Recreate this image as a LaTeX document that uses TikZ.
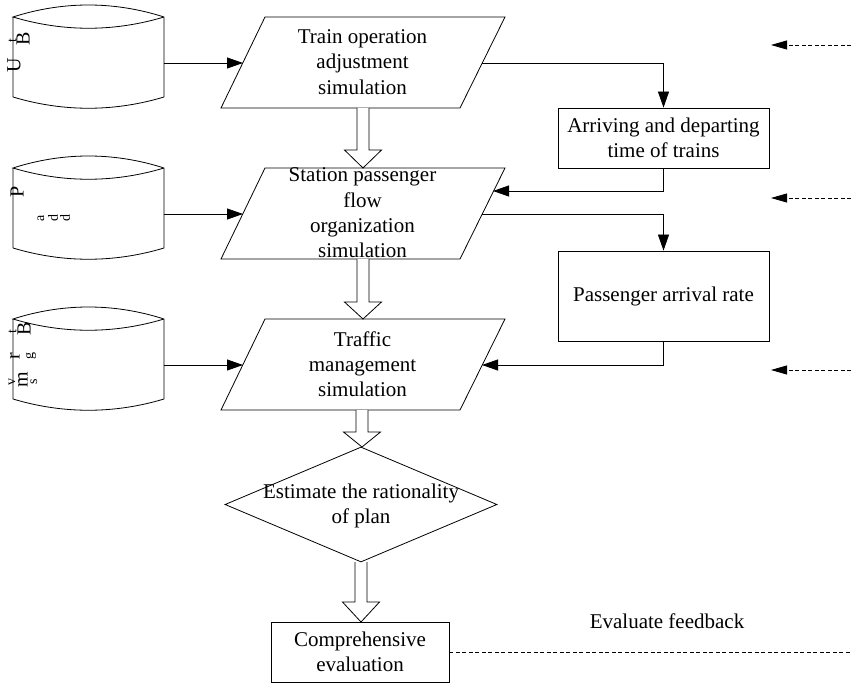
\documentclass[tikz,border=0pt]{standalone}
\usepackage{fontspec}
\setmainfont{Liberation Serif}
\usetikzlibrary{arrows.meta,shapes.geometric,calc}
\begin{document}
\begin{tikzpicture}[x=1pt,y=-1pt,line width=0.8pt,
  txt/.style={font=\fontsize{21}{25.3}\selectfont, align=center, inner sep=0pt},
  boxnode/.style={draw, rectangle, inner sep=0pt, font=\fontsize{21}{25.3}\selectfont, align=center},
  arr/.style={-{Triangle[length=16pt,width=11pt]}},
  fbarrow/.style={dash pattern=on 4pt off 2.5pt, -{Triangle[length=16pt,width=9pt]}},
  dashline/.style={dash pattern=on 4pt off 2.5pt},
  hollow/.style={draw, fill=white},
  rotl/.style={rotate=90, inner sep=0pt, font=\fontsize{20}{20}\selectfont},
  rots/.style={rotate=90, inner sep=0pt, font=\fontsize{14}{14}\selectfont}
]
\fill[white] (0,0) rectangle (851,684);
\useasboundingbox (0,0) rectangle (851,684);

% cylinders
\foreach \t in {17,168,319}{
  \draw (13,\t) -- (13,\t+80) .. controls (63,\t+95) and (114,\t+95) .. (164,\t+80)
        -- (164,\t) .. controls (114,\t-16) and (63,\t-16) .. (13,\t)
        .. controls (63,\t+15) and (114,\t+15) .. (164,\t);
}
% cylinder texts
\node[rotl] (t1a) at (23,39) {B};
\node[rots] (t1b) at (12.5,41) {t};
\node[rotl] (t1c) at (14,65) {U};
\node[rotl] (t2a) at (17,192) {P};
\node[rots, anchor=center] (t2b) at (41,218) {a};
\node[rots, anchor=center] (t2c) at (53,218) {d};
\node[rots, anchor=center] (t2d) at (65,218) {d};
\node[rotl] (t3a) at (24,329) {B};
\node[rots] (t3b) at (12.5,332) {t};
\node[rotl] (t3c) at (15,356) {r};
\node[rots] (t3d) at (31,356) {g};
\node[rotl] (t3e) at (23,380) {m};
\node[rots] (t3f) at (34,382) {s};
\node[rots] (t3g) at (12,382) {v};

% parallelograms
\foreach \t in {17,168,319}{
  \draw (221,\t+91) -- (265,\t) -- (505,\t) -- (460,\t+91) -- cycle;
}
\node[txt] (p1t) at (362.5,62) {Train operation\\adjustment\\simulation};
\node[txt] (p2t) at (362.5,213) {Station passenger\\flow\\organization\\simulation};
\node[txt] (p3t) at (362.5,364.4) {Traffic\\management\\simulation};

% hollow arrows
\foreach \cx/\tp/\hs/\tip in {363/108/150/168, 363/259/302/319, 362/410/432/447, 361/562/602/622}{
  \draw[hollow] (\cx-6,\tp) -- (\cx-6,\hs) -- (\cx-18.5,\hs) -- (\cx,\tip) -- (\cx+18.5,\hs) -- (\cx+6,\hs) -- (\cx+6,\tp);
}

% diamond
\node[diamond, draw, minimum width=272pt, minimum height=115pt, inner sep=0pt] (dia) at (361,504.5) {};
\node[txt] (diat) at (361,505.6) {Estimate the rationality\\of plan};

% boxes
\node[boxnode, minimum width=211pt, minimum height=60pt] (arrv) at (663.5,138) {Arriving and departing\\time of trains};
\node[boxnode, minimum width=211pt, minimum height=90pt] (pas) at (663.5,296) {Passenger arrival rate};
\node[boxnode, minimum width=178pt, minimum height=60pt] (comp) at (360,652) {Comprehensive\\evaluation};
\node[txt] (evf) at (667,621) {Evaluate feedback};

% coordinates
\coordinate (c1) at (164,63);
\coordinate (c2) at (164,214);
\coordinate (c3) at (164,365);
\coordinate (p1l) at (243,63);
\coordinate (p2l) at (243,214);
\coordinate (p3l) at (243,365);
\coordinate (p1r) at (482,63);
\coordinate (p2ri) at (493,191);
\coordinate (p2r) at (482,214);
\coordinate (p3r) at (482,365);
\coordinate (fb1s) at (851,45);
\coordinate (fb1e) at (771,45);
\coordinate (fb2s) at (851,198);
\coordinate (fb2e) at (771,198);
\coordinate (fb3s) at (851,370);
\coordinate (fb3e) at (771,370);
\coordinate (fbend) at (851,652);

% connectors
\draw[arr] (c1) -- (p1l);
\draw[arr] (c2) -- (p2l);
\draw[arr] (c3) -- (p3l);
\draw[arr] (p1r) -| (arrv.north);
\draw[arr] (arrv.south) |- (p2ri);
\draw[arr] (p2r) -| (pas.north);
\draw[arr] (pas.south) |- (p3r);
\draw[fbarrow] (fb1s) -- (fb1e);
\draw[fbarrow] (fb2s) -- (fb2e);
\draw[fbarrow] (fb3s) -- (fb3e);
\draw[dashline] (comp.east) -- (fbend);
\end{tikzpicture}
\end{document}
